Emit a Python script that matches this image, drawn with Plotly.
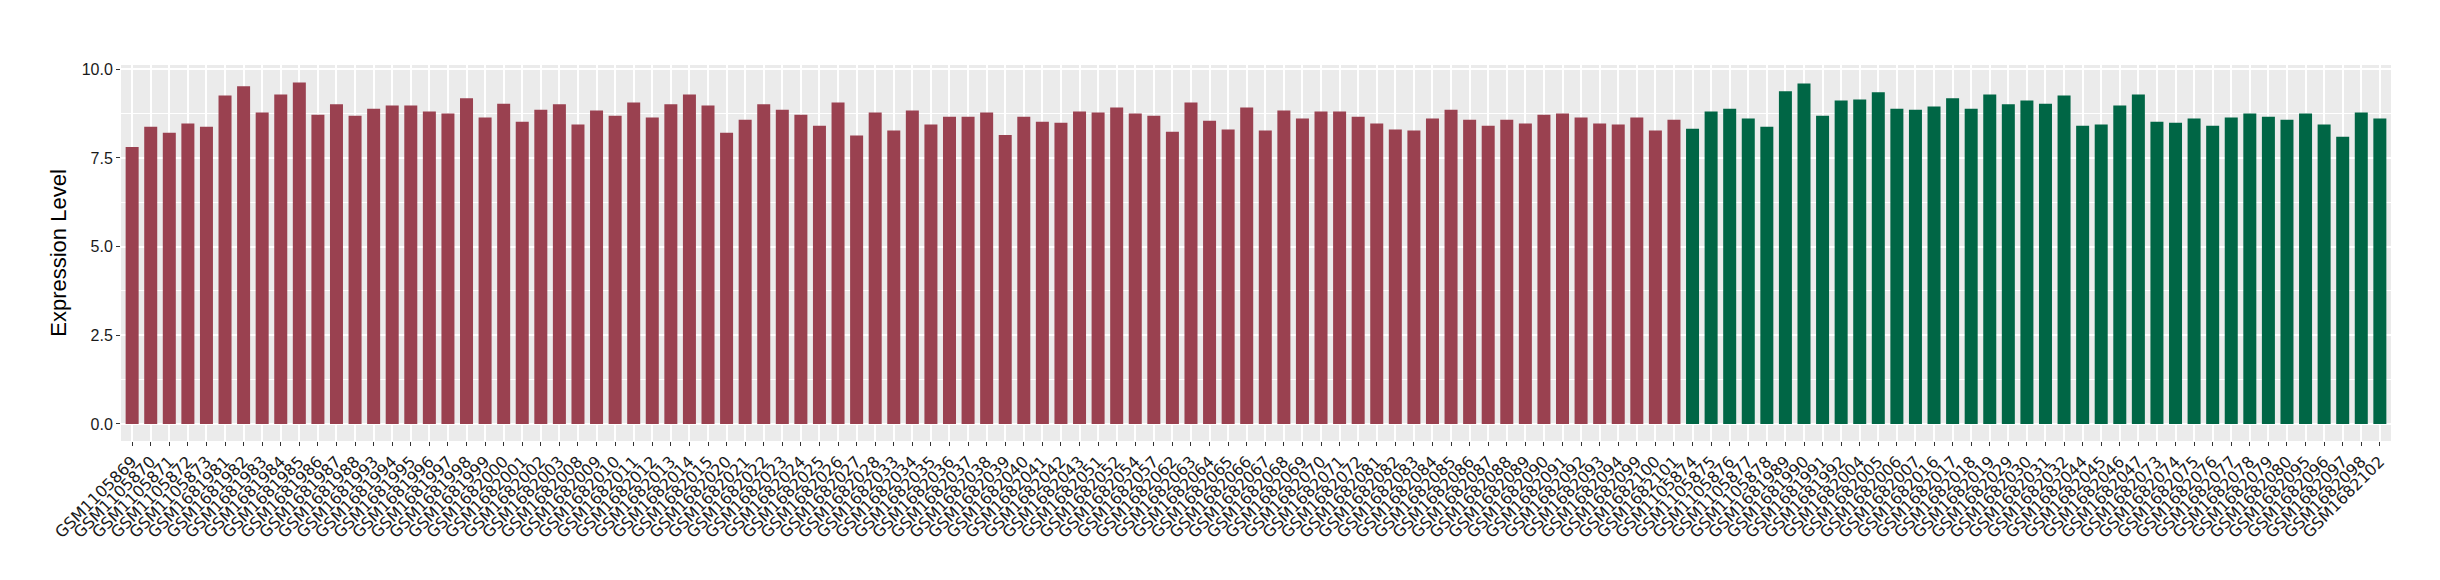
import plotly.graph_objects as go

# ---- data ----
labels_group_a = [
    "GSM1105869", "GSM1105870", "GSM1105871", "GSM1105872", "GSM1105873",
    "GSM1681981", "GSM1681982", "GSM1681983", "GSM1681984", "GSM1681985",
    "GSM1681986", "GSM1681987", "GSM1681988", "GSM1681993", "GSM1681994",
    "GSM1681995", "GSM1681996", "GSM1681997", "GSM1681998", "GSM1681999",
    "GSM1682000", "GSM1682001", "GSM1682002", "GSM1682003", "GSM1682008",
    "GSM1682009", "GSM1682010", "GSM1682011", "GSM1682012", "GSM1682013",
    "GSM1682014", "GSM1682015", "GSM1682020", "GSM1682021", "GSM1682022",
    "GSM1682023", "GSM1682024", "GSM1682025", "GSM1682026", "GSM1682027",
    "GSM1682028", "GSM1682033", "GSM1682034", "GSM1682035", "GSM1682036",
    "GSM1682037", "GSM1682038", "GSM1682039", "GSM1682040", "GSM1682041",
    "GSM1682042", "GSM1682043", "GSM1682051", "GSM1682052", "GSM1682054",
    "GSM1682057", "GSM1682062", "GSM1682063", "GSM1682064", "GSM1682065",
    "GSM1682066", "GSM1682067", "GSM1682068", "GSM1682069", "GSM1682070",
    "GSM1682071", "GSM1682072", "GSM1682081", "GSM1682082", "GSM1682083",
    "GSM1682084", "GSM1682085", "GSM1682086", "GSM1682087", "GSM1682088",
    "GSM1682089", "GSM1682090", "GSM1682091", "GSM1682092", "GSM1682093",
    "GSM1682094", "GSM1682099", "GSM1682100", "GSM1682101",
]
values_group_a = [
    7.81, 8.38, 8.21, 8.47, 8.38, 9.26, 9.52, 8.78, 9.29, 9.63,
    8.72, 9.01, 8.69, 8.89, 8.98, 8.98, 8.81, 8.75, 9.18, 8.64,
    9.03, 8.52, 8.86, 9.01, 8.44, 8.84, 8.69, 9.06, 8.64, 9.01,
    9.29, 8.98, 8.21, 8.58, 9.01, 8.86, 8.72, 8.41, 9.06, 8.13,
    8.78, 8.27, 8.84, 8.44, 8.66, 8.66, 8.78, 8.15, 8.66, 8.52,
    8.49, 8.81, 8.78, 8.92, 8.75, 8.69, 8.24, 9.06, 8.55, 8.30,
    8.92, 8.27, 8.84, 8.61, 8.81, 8.81, 8.66, 8.47, 8.30, 8.27,
    8.61, 8.86, 8.58, 8.41, 8.58, 8.47, 8.72, 8.75, 8.64, 8.47,
    8.44, 8.64, 8.27, 8.58,
]
labels_group_b = [
    "GSM1105874", "GSM1105875", "GSM1105876", "GSM1105877", "GSM1105878",
    "GSM1681989", "GSM1681990", "GSM1681991", "GSM1681992", "GSM1682004",
    "GSM1682005", "GSM1682006", "GSM1682007", "GSM1682016", "GSM1682017",
    "GSM1682018", "GSM1682019", "GSM1682029", "GSM1682030", "GSM1682031",
    "GSM1682032", "GSM1682044", "GSM1682045", "GSM1682046", "GSM1682047",
    "GSM1682073", "GSM1682074", "GSM1682075", "GSM1682076", "GSM1682077",
    "GSM1682078", "GSM1682079", "GSM1682080", "GSM1682095", "GSM1682096",
    "GSM1682097", "GSM1682098", "GSM1682102",
]
values_group_b = [
    8.32, 8.81, 8.89, 8.61, 8.38, 9.38, 9.60, 8.69, 9.12, 9.15,
    9.35, 8.89, 8.86, 8.95, 9.18, 8.89, 9.29, 9.01, 9.12, 9.03,
    9.26, 8.41, 8.44, 8.98, 9.29, 8.52, 8.49, 8.61, 8.41, 8.64,
    8.75, 8.66, 8.58, 8.75, 8.44, 8.10, 8.78, 8.61,
]
y_ticks = [0, 2.5, 5, 7.5, 10]
y_ticktext = ["0.0", "2.5", "5.0", "7.5", "10.0"]

color_a = "#9A4150"
color_b = "#006645"

all_labels = labels_group_a + labels_group_b
n = len(all_labels)

fig = go.Figure()
fig.add_trace(go.Bar(x=labels_group_a, y=values_group_a, marker=dict(color=color_a, line=dict(width=0)),
                     showlegend=False))
fig.add_trace(go.Bar(x=labels_group_b, y=values_group_b, marker=dict(color=color_b, line=dict(width=0)),
                     showlegend=False))

fig.update_layout(
    width=2440, height=580, autosize=False,
    margin=dict(l=113, r=57, t=57, b=147, pad=0),
    paper_bgcolor="white", plot_bgcolor="#EBEBEB",
    barmode="overlay", bargap=0.3,
    font=dict(family="Liberation Sans, Arial, sans-serif", color="#1a1a1a"),
)
fig.update_xaxes(
    type="category", categoryorder="array", categoryarray=all_labels,
    tickmode="array", tickvals=all_labels, ticktext=all_labels,
    range=[-0.6, n - 1 + 0.6],
    tickangle=-45, tickfont=dict(family="DejaVu Sans", size=16, color="#1a1a1a"),
    ticks="outside", ticklen=4, tickwidth=1.1, tickcolor="#333333",
    showgrid=True, gridcolor="white", gridwidth=1.5,
    showline=False, zeroline=False, automargin=False,
)
fig.update_yaxes(
    range=[-0.48, 10.12],
    tickvals=y_ticks, ticktext=y_ticktext,
    tickfont=dict(family="Liberation Sans, Arial", size=16, color="#1a1a1a"),
    ticks="outside", ticklen=4, tickwidth=1.1, tickcolor="#333333",
    showgrid=True, gridcolor="white", gridwidth=1.5,
    minor=dict(dtick=1.25, tick0=0, showgrid=True, gridcolor="white", gridwidth=0.7, ticks=""),
    zeroline=False, showline=False, automargin=False,
    title=dict(text="Expression Level", font=dict(family="Liberation Sans, Arial", size=22, color="black"),
               standoff=8),
)

fig.write_html("out.html")
